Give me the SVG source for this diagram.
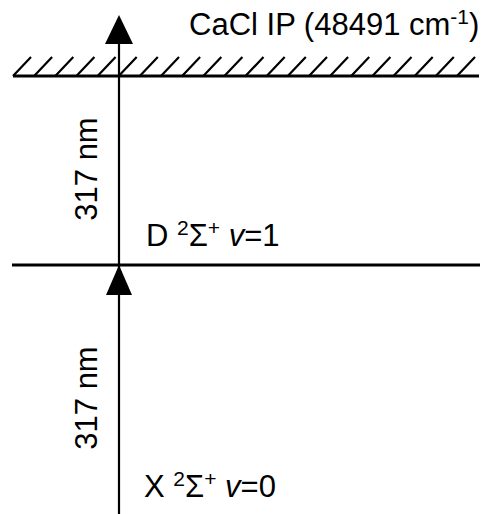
<svg xmlns="http://www.w3.org/2000/svg" width="487" height="514" viewBox="0 0 487 514">
<style>
.t{font-family:"Liberation Sans",Arial,sans-serif;font-size:31px;fill:#000}
.ln{stroke:#000;stroke-width:3;fill:none}
.h{stroke:#000;stroke-width:2.2;fill:none}
.ar{fill:#000}
</style>
<rect width="487" height="514" fill="#fff"/>
<g id="ip-level">
<line class="ln" x1="13" y1="76" x2="479" y2="76"/>
<g id="hatch">
<path class="h" d="M13,76l18,-19 M34.1,76l18,-19 M55.3,76l18,-19 M76.4,76l18,-19 M97.6,76l18,-19 M118.7,76l18,-19 M139.8,76l18,-19 M161,76l18,-19 M182.1,76l18,-19 M203.3,76l18,-19 M224.4,76l18,-19 M245.5,76l18,-19 M266.7,76l18,-19 M287.8,76l18,-19 M309,76l18,-19 M330.1,76l18,-19 M351.2,76l18,-19 M372.4,76l18,-19 M393.5,76l18,-19 M414.7,76l18,-19 M435.8,76l18,-19 M457,76l18,-19"/>
</g>
<text class="t" x="189" y="35">CaCl IP (48491 cm<tspan font-size="21" dy="-11">-1</tspan><tspan dy="11">)</tspan></text>
</g>
<g id="d-level">
<line class="ln" x1="12" y1="265" x2="480" y2="265"/>
<text class="t" x="146" y="246">D <tspan font-size="21" dy="-11">2</tspan><tspan dy="11">Σ</tspan><tspan font-size="21" dy="-11">+</tspan><tspan dy="11"> </tspan><tspan font-style="italic">v</tspan>=1</text>
</g>
<g id="x-level">
<text class="t" x="144" y="497">X <tspan font-size="21" dy="-11">2</tspan><tspan dy="11">Σ</tspan><tspan font-size="21" dy="-11">+</tspan><tspan dy="11"> </tspan><tspan font-style="italic">v</tspan>=0</text>
</g>
<g id="connectors">
<line x1="119" y1="40" x2="119" y2="514" stroke="#000" stroke-width="2.2"/>
<polygon class="ar" points="119,15 133,44 105,44"/>
<polygon class="ar" points="119,265 132,295 106,295"/>
<text class="t" transform="translate(97,169) rotate(-90)" text-anchor="middle">317 nm</text>
<text class="t" transform="translate(97,398) rotate(-90)" text-anchor="middle">317 nm</text>
</g>
</svg>
